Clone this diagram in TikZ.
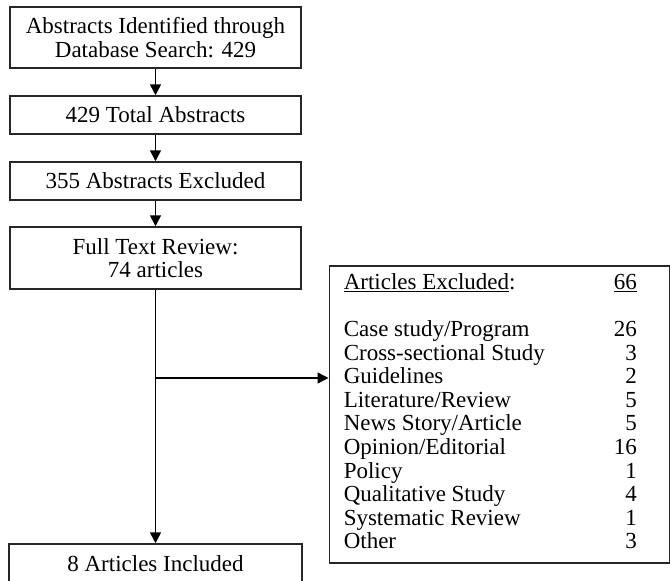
\documentclass[tikz,border=0pt]{standalone}
\usepackage{fontspec}
\setmainfont{Liberation Serif}
\usepackage{array}
\usetikzlibrary{arrows.meta}
\tikzstyle{box}=[rectangle,draw=black!85,line width=1.5pt,inner sep=0pt,
  minimum width=291pt,align=center,font=\fontsize{23}{23.5}\selectfont]
\tikzstyle{listbox}=[rectangle,draw=black!85,line width=1.5pt,inner xsep=0pt,
  inner ysep=7pt,minimum width=340pt,anchor=north west,
  font=\fontsize{23}{23.6}\selectfont]
\tikzstyle{arr}=[line width=1.5pt,-{Triangle[length=11pt,width=11pt]}]

\begin{document}
\begin{tikzpicture}[x=1pt,y=1pt]
    \clip (0,0) rectangle (670,-581);
    \node [style=box,minimum height=61pt] (search) at (155.5,-37.5) {Abstracts Identified through\\Database Search: 429};
    \node [style=box,minimum height=38pt] (total) at (155.5,-115) {429 Total Abstracts};
    \node [style=box,minimum height=38pt] (absex) at (155.5,-181) {355 Abstracts Excluded};
    \node [style=box,minimum height=62pt] (review) at (155.5,-258) {Full Text Review:\\74 articles};
    \node [style=box,minimum width=293pt,minimum height=39pt] (incl) at (155.5,-563.5) {8 Articles Included};
    \node [style=listbox] (artex) at (328.5,-265) {%
      \begin{tabular}{@{\hspace{14.5pt}}p{270pt}@{}r@{\hspace{33pt}}}
        \underline{Articles Excluded}: & \underline{66}\\
        & \\
        Case study/Program & 26\\
        Cross-sectional Study & 3\\
        Guidelines & 2\\
        Literature/Review & 5\\
        News Story/Article & 5\\
        Opinion/Editorial & 16\\
        Policy & 1\\
        Qualitative Study & 4\\
        Systematic Review & 1\\
        Other & 3
      \end{tabular}};
    \coordinate (split) at (155.5,-378);
    \draw [style=arr] (search) to (total);
    \draw [style=arr] (total) to (absex);
    \draw [style=arr] (absex) to (review);
    \draw [style=arr] (review) to (incl);
    \draw [style=arr] (split) to (split -| artex.west);
  \end{tikzpicture}
\end{document}
